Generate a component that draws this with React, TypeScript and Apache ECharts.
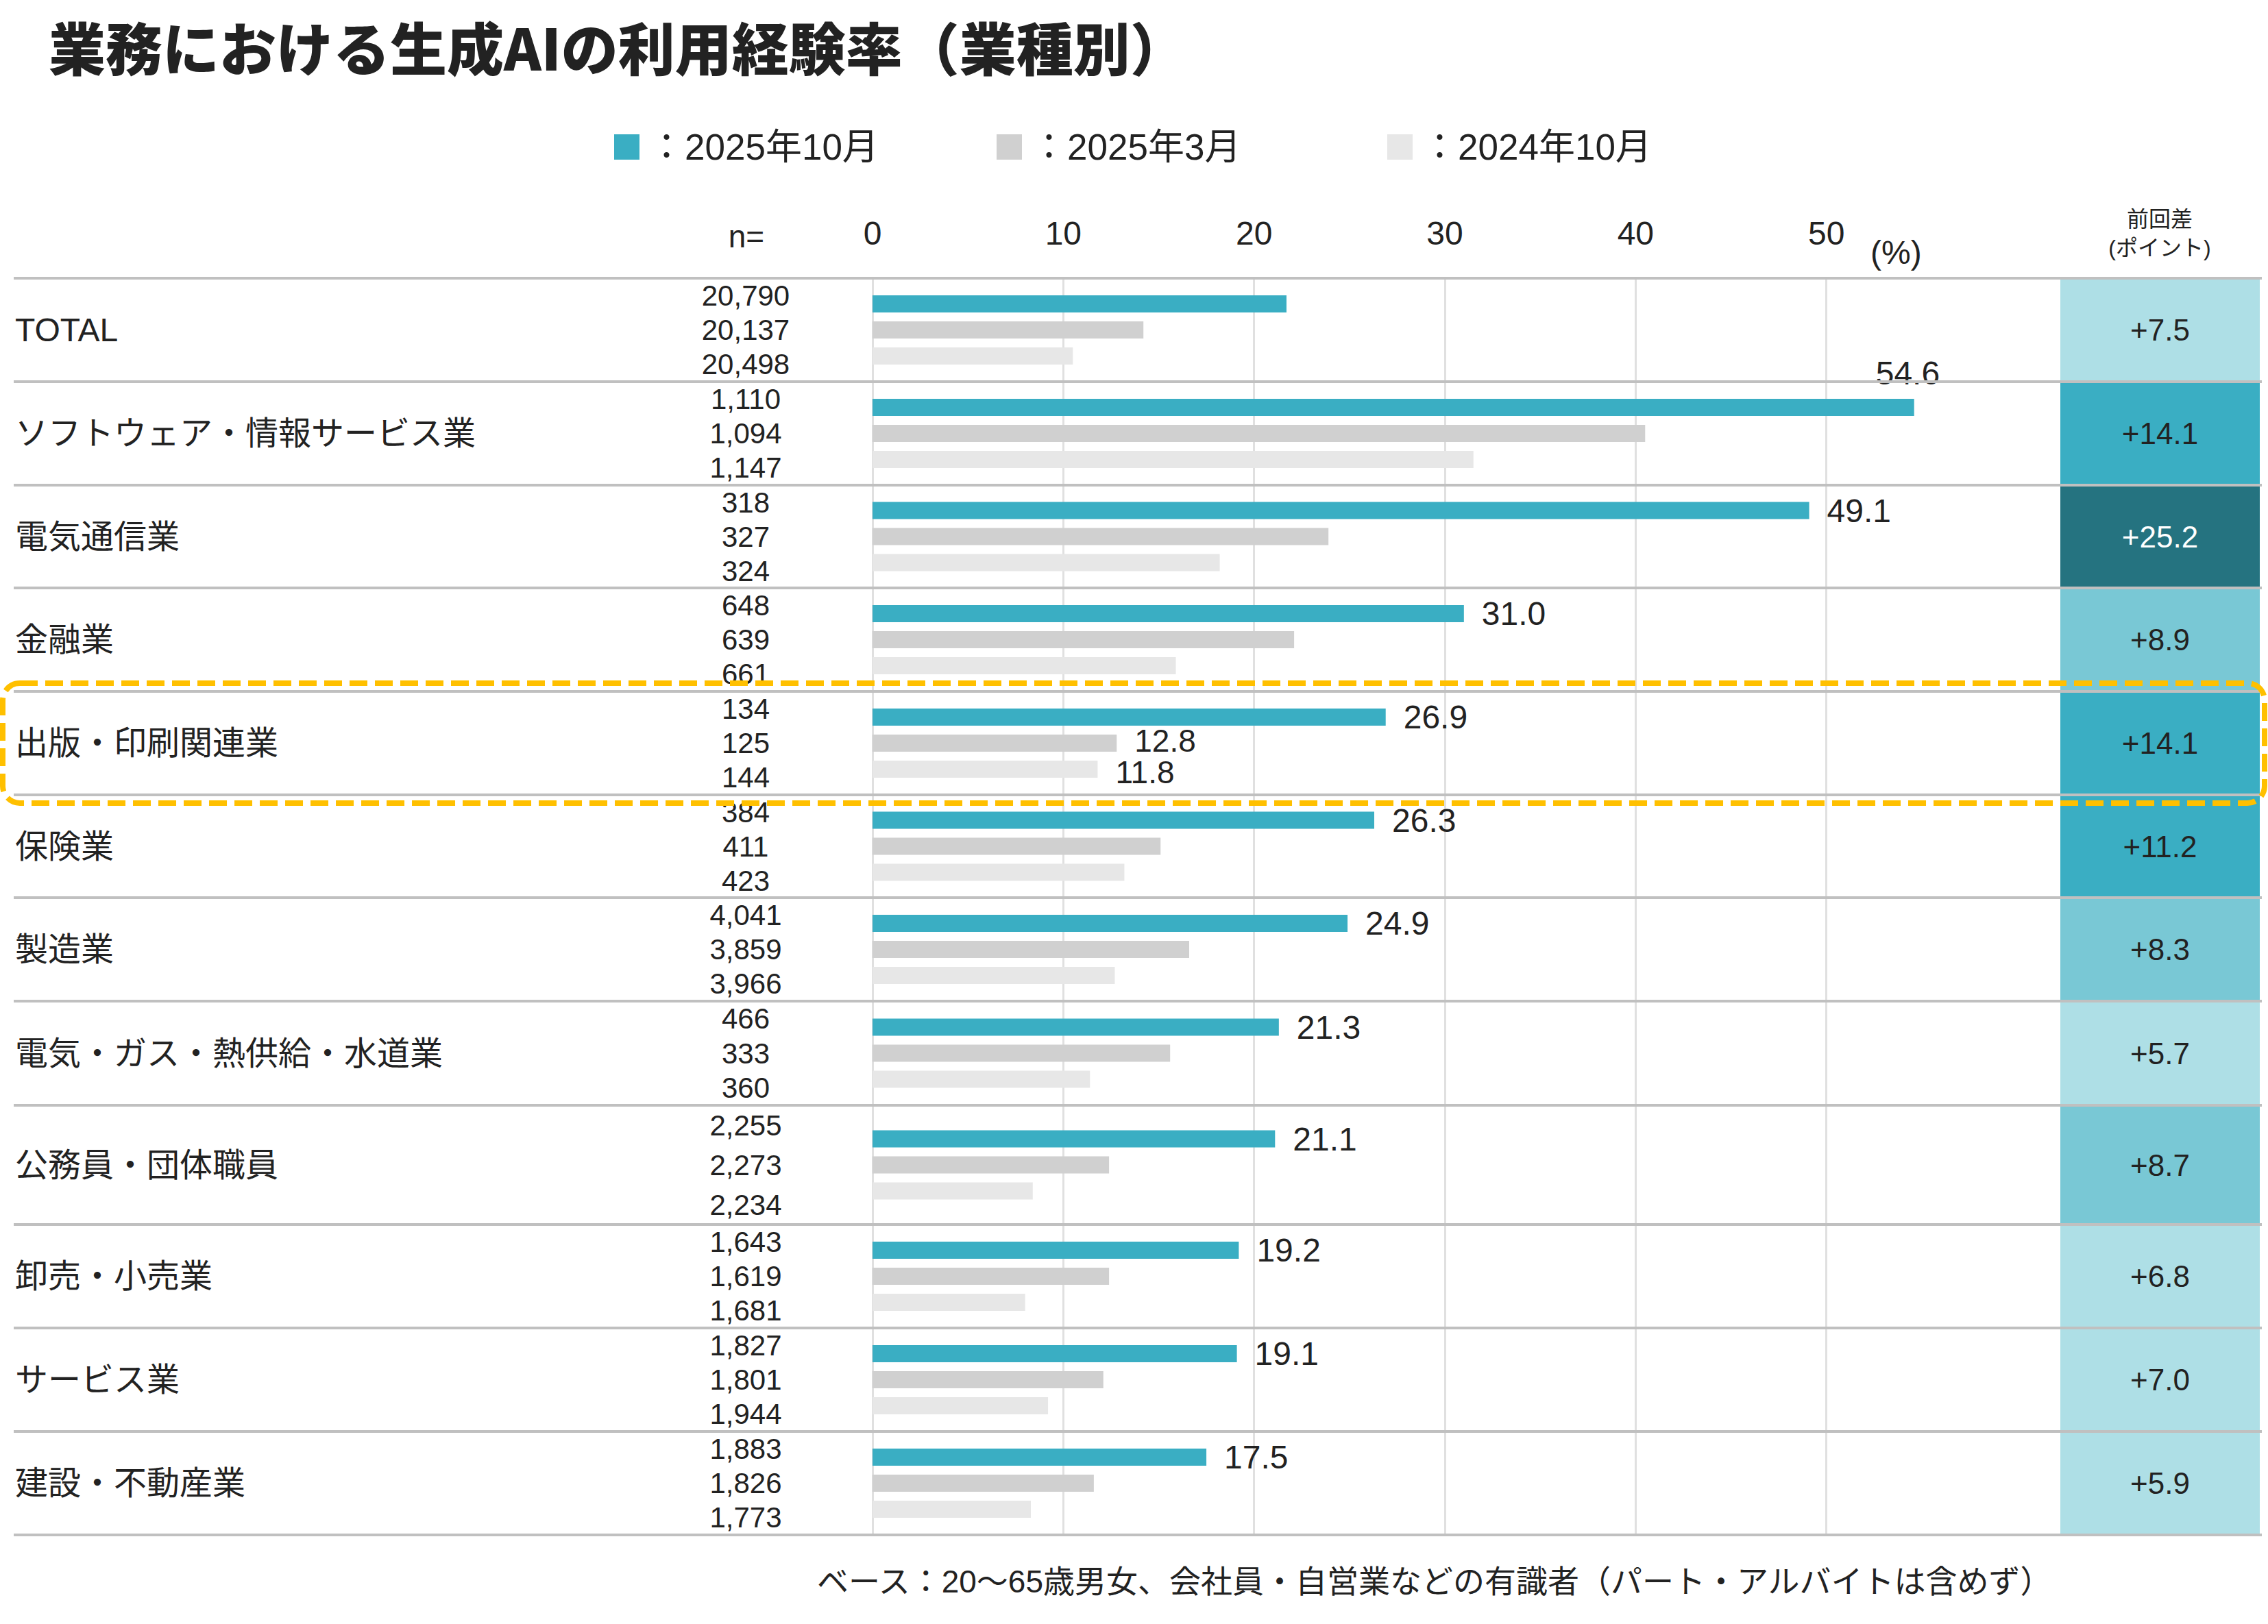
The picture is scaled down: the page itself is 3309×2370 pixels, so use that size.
import React, { useEffect, useRef } from 'react';
import * as echarts from 'echarts';

// ---------- data ----------
const industries = [
  'TOTAL',
  'ソフトウェア・情報サービス業',
  '電気通信業',
  '金融業',
  '出版・印刷関連業',
  '保険業',
  '製造業',
  '電気・ガス・熱供給・水道業',
  '公務員・団体職員',
  '卸売・小売業',
  'サービス業',
  '建設・不動産業',
];
const surveyNames = ['2025年10月', '2025年3月', '2024年10月'];
const rateOct2025 = [21.7, 54.6, 49.1, 31.0, 26.9, 26.3, 24.9, 21.3, 21.1, 19.2, 19.1, 17.5];
const rateMar2025 = [14.2, 40.5, 23.9, 22.1, 12.8, 15.1, 16.6, 15.6, 12.4, 12.4, 12.1, 11.6];
const rateOct2024 = [10.5, 31.5, 18.2, 15.9, 11.8, 13.2, 12.7, 11.4, 8.4, 8.0, 9.2, 8.3];
const nOct2025 = ['20,790', '1,110', '318', '648', '134', '384', '4,041', '466', '2,255', '1,643', '1,827', '1,883'];
const nMar2025 = ['20,137', '1,094', '327', '639', '125', '411', '3,859', '333', '2,273', '1,619', '1,801', '1,826'];
const nOct2024 = ['20,498', '1,147', '324', '661', '144', '423', '3,966', '360', '2,234', '1,681', '1,944', '1,773'];
const diffPoints = [7.5, 14.1, 25.2, 8.9, 14.1, 11.2, 8.3, 5.7, 8.7, 6.8, 7.0, 5.9];
const highlightRow = 4;
const titleText = '業務における生成AIの利用経験率（業種別）';
const footerText = 'ベース：20～65歳男女、会社員・自営業などの有識者（パート・アルバイトは含めず）';

// ---------- layout / style ----------
const W = 3309;
const H = 2370;
const rowEdges = [406, 557, 708, 858, 1009, 1160, 1310, 1461, 1613, 1787, 1938, 2089, 2240];
const plotLeft = 1273;
const plotWidth = 1670; // 0..60
const cellLeft = 3006;
const cellWidth = 291;
const FONT = "'Liberation Sans', 'Noto Sans CJK JP', sans-serif";
const TXT = '#222222';
const seriesColors = ['#3aaec3', '#d0d0d0', '#e7e7e7'];

function cellColor(d: number) {
  if (d >= 20) return '#257380';
  if (d >= 10) return '#3aaec3';
  if (d >= 8) return '#79c8d5';
  return '#aedfe6';
}

function buildOption() {
  const grid: any[] = [];
  const xAxis: any[] = [];
  const yAxis: any[] = [];
  const series: any[] = [];
  const n = industries.length;
  const rates = [rateOct2025, rateMar2025, rateOct2024];
  const nVals = [nOct2025, nMar2025, nOct2024];

  for (let i = 0; i < n; i++) {
    const top = rowEdges[i];
    const h = rowEdges[i + 1] - rowEdges[i];
    grid.push({ left: plotLeft, width: plotWidth, top, height: h, outerBoundsMode: 'none' });
    xAxis.push({
      type: 'value',
      gridIndex: i,
      min: 0,
      max: 60,
      interval: 10,
      position: 'top',
      axisLine: { show: false },
      axisTick: { show: false },
      axisLabel: {
        show: i === 0,
        showMaxLabel: false,
        margin: 66,
        verticalAlign: 'middle',
        fontSize: 48,
        color: TXT,
        fontFamily: FONT,
      },
      splitLine: { show: true, showMaxLine: false, lineStyle: { color: '#e0e0e0', width: 3 } },
    });
    yAxis.push({
      type: 'category',
      gridIndex: i,
      data: [industries[i]],
      inverse: true,
      axisLine: { show: false },
      axisTick: { show: false },
      axisLabel: { align: 'left', margin: plotLeft - 22, fontSize: 48, color: TXT, fontFamily: FONT, interval: 0 },
    });
    yAxis.push({
      type: 'category',
      gridIndex: i,
      position: 'left',
      data: [nVals[0][i], nVals[1][i], nVals[2][i]],
      inverse: true,
      axisLine: { show: false },
      axisTick: { show: false },
      axisLabel: { align: 'center', margin: plotLeft - 1088, fontSize: 42, color: TXT, fontFamily: FONT, interval: 0 },
    });

    for (let s = 0; s < 3; s++) {
      const showLabel = (s === 0 && i !== 0) || (i === highlightRow);
      const lbl: any = {
        show: showLabel,
        position: 'right',
        distance: 26,
        fontSize: 48,
        color: TXT,
        fontFamily: FONT,
        formatter: (p: any) => Number(p.value).toFixed(1),
      };
      if (i === highlightRow && s > 0) {
        lbl.fontSize = 46;
        lbl.lineHeight = 36;
        lbl.offset = [0, s === 1 ? -4 : 4];
      }
      if (s === 0 && i === 1) lbl.offset = [-82, -50];
      series.push({
        type: 'bar',
        name: surveyNames[s],
        xAxisIndex: i,
        yAxisIndex: i * 2,
        data: [rates[s][i]],
        barWidth: 25,
        barGap: '52%',
        itemStyle: { color: seriesColors[s] },
        label: lbl,
        silent: true,
      });
    }
  }

  // difference cells
  for (let i = 0; i < n; i++) {
    const top = rowEdges[i];
    const h = rowEdges[i + 1] - rowEdges[i];
    const gi = n + i;
    grid.push({ left: cellLeft, width: cellWidth, top, height: h, outerBoundsMode: 'none' });
    xAxis.push({ type: 'category', gridIndex: gi, data: [''], show: false });
    yAxis.push({ type: 'value', gridIndex: gi, min: 0, max: 1, show: false });
    const d = diffPoints[i];
    series.push({
      type: 'bar',
      name: 'diff',
      xAxisIndex: gi,
      yAxisIndex: 2 * n + i,
      data: [1],
      barWidth: '100%',
      itemStyle: { color: cellColor(d) },
      label: {
        show: true,
        position: 'inside',
        fontSize: 44,
        color: d >= 20 ? '#ffffff' : TXT,
        fontFamily: FONT,
        formatter: () => '+' + d.toFixed(1),
      },
      silent: true,
    });
  }

  const graphic: any[] = [];
  rowEdges.forEach((y) => {
    graphic.push({
      type: 'line',
      z: 100,
      shape: { x1: 20, y1: y, x2: 3300, y2: y },
      style: { stroke: '#c0c0c0', lineWidth: 4 },
    });
  });
  const hy1 = rowEdges[highlightRow] - 12;
  const hy2 = rowEdges[highlightRow + 1] + 12;
  graphic.push({
    type: 'rect',
    z: 110,
    shape: { x: 4, y: hy1, width: 3300, height: hy2 - hy1, r: 25 },
    style: { fill: 'none', stroke: '#ffc000', lineWidth: 8, lineDash: [26, 11] },
  });
  const txt = (text: string, x: number, y: number, size: number, align = 'center', extra: any = {}) => ({
    type: 'text',
    z: 100,
    x,
    y,
    style: { text, fontSize: size, fontFamily: FONT, fill: TXT, align, verticalAlign: 'middle', ...extra },
  });
  graphic.push(txt('n=', 1089, 345, 46));
  graphic.push(txt('(%)', 2729, 368, 48, 'left'));
  graphic.push(txt('前回差', 3151, 320, 32));
  graphic.push(txt('(ポイント)', 3151, 362, 32));
  graphic.push(txt(footerText, 1192, 2308, 46, 'left'));

  const legendBase = {
    icon: 'rect',
    itemWidth: 37,
    itemHeight: 37,
    top: 183,
    selectedMode: false,
    formatter: '：{name}',
    textStyle: { fontSize: 53, color: TXT, fontFamily: FONT, padding: [0, 0, 0, 8] },
  };

  return {
    animation: false,
    backgroundColor: '#ffffff',
    title: {
      text: titleText,
      left: 66,
      top: 20,
      textStyle: { fontSize: 83, fontWeight: 900, color: TXT, fontFamily: "'Noto Sans CJK JP', sans-serif" },
    },
    legend: [
      { ...legendBase, left: 891, data: [surveyNames[0]] },
      { ...legendBase, left: 1449, data: [surveyNames[1]] },
      { ...legendBase, left: 2019, data: [surveyNames[2]] },
    ],
    grid,
    xAxis,
    yAxis,
    series,
    graphic,
  };
}

export default function App() {
  const ref = useRef<HTMLDivElement>(null);
  useEffect(() => {
    if (!ref.current) return;
    const chart = echarts.init(ref.current, undefined, { renderer: 'svg' });
    chart.setOption(buildOption() as any);
    return () => chart.dispose();
  }, []);
  return <div ref={ref} style={{ position: 'absolute', left: 0, top: 0, width: W, height: H }} />;
}
